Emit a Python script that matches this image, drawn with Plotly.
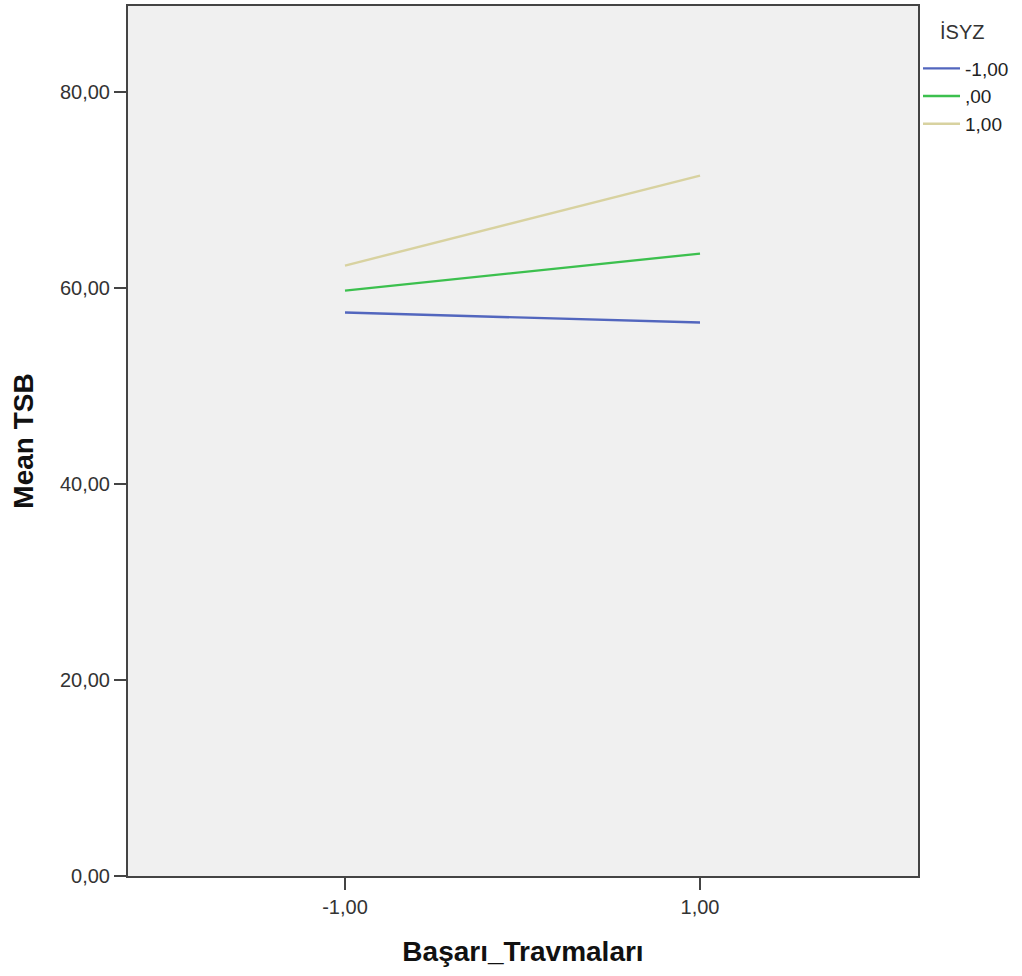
import plotly.graph_objects as go

x_levels = [-1.0, 1.0]
x_tick_labels = ["-1,00", "1,00"]
series_names = ["-1,00", ",00", "1,00"]
series_values = [
    [57.48, 56.46],
    [59.72, 63.49],
    [62.27, 71.44],
]
series_colors = ["#5266BE", "#3CC04E", "#D8D2A0"]
legend_title = "İSYZ"
y_ticks = [0, 20, 40, 60, 80]
y_tick_labels = ["0,00", "20,00", "40,00", "60,00", "80,00"]

font_family = "Liberation Sans, Arial, sans-serif"

fig = go.Figure()
for name, vals, col in zip(series_names, series_values, series_colors):
    fig.add_trace(go.Scatter(
        x=x_levels, y=vals, mode="lines", name=name,
        line=dict(color=col, width=2.4),
    ))

fig.add_annotation(
    text=legend_title, xref="paper", yref="paper",
    x=1.0, y=1.0, xanchor="left", yanchor="top",
    xshift=20, yshift=-13, showarrow=False,
    font=dict(size=20, family=font_family, color="#333333"),
)

fig.update_layout(
    width=1022, height=976,
    margin=dict(l=128, r=104, t=4, b=100),
    paper_bgcolor="white",
    plot_bgcolor="#F0F0F0",
    font=dict(family=font_family, size=20, color="#222222"),
    showlegend=True,
    legend=dict(
        x=1.0, xanchor="left", y=0.950, yanchor="top",
        xref="paper", yref="paper",
        bgcolor="rgba(0,0,0,0)",
        font=dict(size=19, family=font_family, color="#222222"),
        tracegroupgap=0,
        itemwidth=37,
    ),
    xaxis=dict(
        range=[-2.2225, 2.228],
        tickmode="array", tickvals=x_levels, ticktext=x_tick_labels,
        ticks="outside", ticklen=12, tickwidth=2, tickcolor="#444444",
        showgrid=False, zeroline=False,
        showline=True, linecolor="#444444", linewidth=2, mirror=True,
        title=dict(text="<b>Başarı_Travmaları</b>", font=dict(size=28, family=font_family, color="#111111"), standoff=24),
        tickfont=dict(size=20, color="#333333"),
    ),
    yaxis=dict(
        range=[0, 88.75],
        tickmode="array", tickvals=y_ticks, ticktext=y_tick_labels,
        ticks="outside", ticklen=12, tickwidth=2, tickcolor="#444444",
        showgrid=False, zeroline=False,
        showline=True, linecolor="#444444", linewidth=2, mirror=True,
        title=dict(text="<b>Mean TSB</b>", font=dict(size=28, family=font_family, color="#111111"), standoff=18),
        tickfont=dict(size=20, color="#333333"),
    ),
)

fig.write_html("out.html", config={"displayModeBar": False},
               post_script="document.body.style.margin='0px';")
